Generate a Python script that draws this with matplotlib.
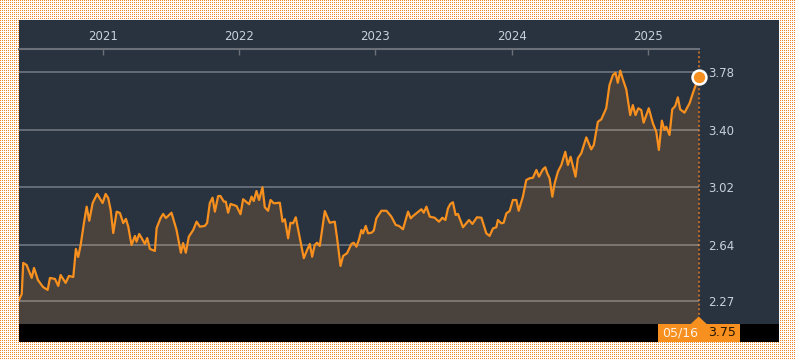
import numpy as np
import matplotlib
matplotlib.use("Agg")
import matplotlib.pyplot as plt
from matplotlib.patches import Rectangle, Polygon
from matplotlib.transforms import IdentityTransform

# decimal years (May 2020 .. 16 May 2025)
dates = [
    2020.387, 2020.407, 2020.418, 2020.443, 2020.480, 2020.497, 2020.526, 2020.563,
    2020.597, 2020.614, 2020.651, 2020.675, 2020.692, 2020.729, 2020.753, 2020.785,
    2020.804, 2020.821, 2020.839, 2020.863, 2020.883, 2020.902, 2020.927, 2020.960,
    2021.000, 2021.022, 2021.041, 2021.059, 2021.078, 2021.103, 2021.127, 2021.151,
    2021.171, 2021.188, 2021.212, 2021.237, 2021.249, 2021.268, 2021.286, 2021.310,
    2021.327, 2021.347, 2021.383, 2021.396, 2021.425, 2021.444, 2021.464, 2021.505,
    2021.542, 2021.574, 2021.590, 2021.610, 2021.632, 2021.664, 2021.689, 2021.713,
    2021.749, 2021.766, 2021.786, 2021.806, 2021.823, 2021.847, 2021.864, 2021.889,
    2021.903, 2021.920, 2021.938, 2021.982, 2022.011, 2022.030, 2022.074, 2022.092,
    2022.108, 2022.128, 2022.147, 2022.172, 2022.189, 2022.213, 2022.231, 2022.255,
    2022.299, 2022.319, 2022.336, 2022.360, 2022.377, 2022.396, 2022.416, 2022.433,
    2022.475, 2022.499, 2022.519, 2022.536, 2022.555, 2022.572, 2022.592, 2022.629,
    2022.665, 2022.702, 2022.719, 2022.744, 2022.763, 2022.792, 2022.824, 2022.841,
    2022.861, 2022.880, 2022.897, 2022.909, 2022.929, 2022.946, 2022.971, 2022.988,
    2023.007, 2023.044, 2023.081, 2023.117, 2023.149, 2023.173, 2023.202, 2023.239,
    2023.259, 2023.275, 2023.300, 2023.337, 2023.354, 2023.374, 2023.398, 2023.434,
    2023.466, 2023.491, 2023.513, 2023.532, 2023.549, 2023.568, 2023.588, 2023.605,
    2023.642, 2023.686, 2023.711, 2023.744, 2023.777, 2023.813, 2023.837, 2023.862,
    2023.886, 2023.898, 2023.923, 2023.940, 2023.960, 2023.984, 2024.008, 2024.033,
    2024.050, 2024.081, 2024.106, 2024.130, 2024.155, 2024.180, 2024.199, 2024.228,
    2024.245, 2024.260, 2024.277, 2024.297, 2024.314, 2024.338, 2024.363, 2024.392,
    2024.411, 2024.431, 2024.467, 2024.484, 2024.509, 2024.546, 2024.582, 2024.601,
    2024.631, 2024.656, 2024.692, 2024.716, 2024.741, 2024.760, 2024.777, 2024.795,
    2024.814, 2024.839, 2024.868, 2024.887, 2024.907, 2024.927, 2024.949, 2024.966,
    2025.004, 2025.034, 2025.059, 2025.078, 2025.100, 2025.119, 2025.132, 2025.156,
    2025.176, 2025.198, 2025.217, 2025.234, 2025.266, 2025.303, 2025.327, 2025.370,
]

values = [
    2.277, 2.316, 2.521, 2.507, 2.422, 2.488, 2.408, 2.362,
    2.343, 2.422, 2.415, 2.369, 2.441, 2.389, 2.435, 2.428,
    2.613, 2.560, 2.639, 2.784, 2.892, 2.799, 2.916, 2.976,
    2.916, 2.976, 2.949, 2.870, 2.718, 2.859, 2.850, 2.784,
    2.811, 2.760, 2.639, 2.699, 2.661, 2.712, 2.685, 2.646,
    2.685, 2.613, 2.600, 2.751, 2.817, 2.844, 2.817, 2.852,
    2.738, 2.588, 2.652, 2.588, 2.694, 2.738, 2.793, 2.760,
    2.765, 2.784, 2.916, 2.951, 2.859, 2.962, 2.962, 2.925,
    2.925, 2.852, 2.910, 2.896, 2.842, 2.941, 2.908, 2.958,
    2.929, 2.995, 2.936, 3.020, 2.888, 2.865, 2.936, 2.914,
    2.918, 2.793, 2.809, 2.683, 2.786, 2.782, 2.822, 2.743,
    2.552, 2.606, 2.646, 2.562, 2.639, 2.654, 2.633, 2.863,
    2.786, 2.793, 2.683, 2.501, 2.567, 2.585, 2.646, 2.654,
    2.628, 2.677, 2.738, 2.716, 2.765, 2.716, 2.720, 2.734,
    2.815, 2.865, 2.865, 2.826, 2.771, 2.765, 2.743, 2.859,
    2.815, 2.830, 2.848, 2.875, 2.852, 2.892, 2.826, 2.819,
    2.793, 2.819, 2.804, 2.881, 2.910, 2.921, 2.837, 2.844,
    2.756, 2.804, 2.778, 2.822, 2.819, 2.716, 2.699, 2.749,
    2.756, 2.804, 2.782, 2.786, 2.848, 2.863, 2.936, 2.936,
    2.865, 2.958, 3.068, 3.079, 3.083, 3.134, 3.090, 3.138,
    3.152, 3.112, 3.079, 2.958, 3.046, 3.123, 3.167, 3.254,
    3.167, 3.221, 3.090, 3.211, 3.244, 3.349, 3.270, 3.299,
    3.452, 3.468, 3.541, 3.694, 3.760, 3.775, 3.709, 3.789,
    3.732, 3.666, 3.496, 3.562, 3.496, 3.541, 3.529, 3.446,
    3.541, 3.442, 3.386, 3.266, 3.459, 3.398, 3.419, 3.365,
    3.534, 3.556, 3.613, 3.534, 3.512, 3.574, 3.640, 3.750,
]

year_ticks = [2021, 2022, 2023, 2024, 2025]
year_labels = ["2021", "2022", "2023", "2024", "2025"]
price_ticks = [2.27, 2.64, 3.02, 3.40, 3.78]
last_date_label = "05/16"

ORANGE = "#f7901e"
PANEL = "#29333f"
FILL = "#4a423c"
GRID = "#6b7079"
TEXT = "#c8d0d9"

W, H = 796, 360
fig = plt.figure(figsize=(W / 100, H / 100), dpi=100)

# dotted orange page background
pat = np.ones((H, W, 3))
pat[::2, ::2] = np.array([238, 136, 44]) / 255.0
fig.figimage(pat, 0, 0, origin="upper", zorder=0)

px = IdentityTransform()
fig.add_artist(Rectangle((19, 18), 760, 322, transform=px, facecolor=PANEL,
                         edgecolor="none", zorder=0.5))
fig.add_artist(Rectangle((19, 18), 760, 18, transform=px, facecolor="black",
                         edgecolor="none", zorder=0.6))

ax = fig.add_axes([19 / W, 36 / H, (698.7 - 19) / W, (311 - 36) / H], zorder=1)
ax.set_facecolor("none")

ymin, ymax = 2.118, 3.932
ax.fill_between(dates, values, ymin - 1, color=FILL, lw=0, zorder=1)
ax.plot(dates, values, color=ORANGE, lw=1.6, zorder=3, solid_joinstyle="round")
ax.set_xlim(dates[0], dates[-1])
ax.set_ylim(ymin, ymax)

ax.set_axisbelow(False)
ax.set_yticks(price_ticks)
ax.set_yticklabels([f"{v:.2f}" for v in price_ticks])
ax.grid(axis="y", color="white", alpha=0.3, lw=1.3)
ax.yaxis.tick_right()
ax.tick_params(axis="y", length=0, pad=7, labelcolor=TEXT, labelsize=8.5)

ax.xaxis.tick_top()
ax.set_xticks(year_ticks)
ax.set_xticklabels(year_labels)
ax.tick_params(axis="x", direction="in", length=4, width=1, color=GRID,
               labelcolor=TEXT, labelsize=8.5, pad=4)

for s in ["left", "right", "bottom"]:
    ax.spines[s].set_visible(False)
ax.spines["top"].set_color(GRID)
ax.spines["top"].set_linewidth(1.5)

ax.axvline(dates[-1], color="#b5682a", ls=(0, (1, 1.2)), lw=1.5,
           clip_on=False, zorder=2)
ax.plot(dates[-1], values[-1], "o", ms=10, mfc=ORANGE, mec="white", mew=1.8,
        clip_on=False, zorder=5)

# last value tag in the bottom bar
xl = ax.transData.transform((dates[-1], values[-1]))[0]
fig.add_artist(Rectangle((xl - 41, 18), 82.3, 18, transform=px, facecolor=ORANGE,
                         edgecolor="none", zorder=3))
fig.add_artist(Polygon([(xl - 8, 36), (xl + 8, 36), (xl, 43.5)], closed=True,
                       transform=px, facecolor=ORANGE, edgecolor="none", zorder=3))
fig.text(xl - 18.5, 27, last_date_label, transform=px, color="#fdf1e4",
         fontsize=9, ha="center", va="center", zorder=4)
fig.text(xl + 23, 27, f"{values[-1]:.2f}", transform=px, color="#231405",
         fontsize=9, ha="center", va="center", zorder=4)

fig.savefig("out.png", dpi=100, facecolor="white")
